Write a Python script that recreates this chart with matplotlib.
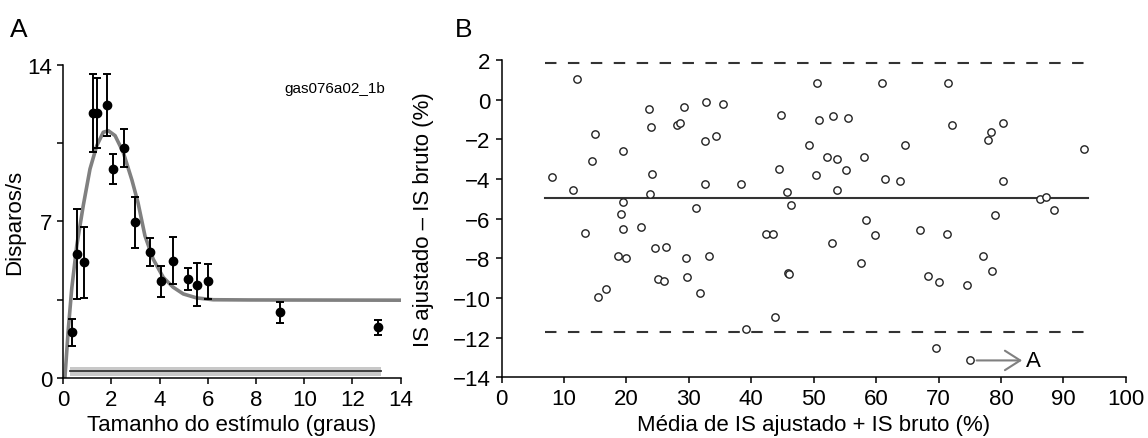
import matplotlib
matplotlib.use("Agg")
import matplotlib.pyplot as plt

plt.rcParams['font.family'] = ['Liberation Sans', 'DejaVu Sans']

# Painel A: resposta ao tamanho do estímulo
tamanho = [0.35, 0.58, 0.86, 1.23, 1.41, 1.81, 2.05, 2.53, 2.99, 3.6, 4.07,
           4.55, 5.16, 5.53, 6.02, 8.99, 13.06]
disparos = [2.04, 5.55, 5.17, 11.85, 11.85, 12.21, 9.35, 10.29, 6.96, 5.62,
            4.32, 5.25, 4.43, 4.17, 4.32, 2.94, 2.27]
erro = [0.62, 2.0, 1.57, 1.74, 1.56, 1.38, 0.67, 0.85, 1.15, 0.63, 0.7,
        1.05, 0.5, 0.96, 0.78, 0.46, 0.33]

# curva ajustada
ajuste_x = [0, 0.07, 0.21, 0.35, 0.56, 0.83, 1.11, 1.39, 1.66, 1.87, 2.15,
            2.49, 2.85, 3.1, 3.39, 3.73, 4.15, 4.56, 4.98, 5.54, 6.22, 7.75, 14]
ajuste_y = [0, 0.03, 2.19, 3.98, 5.92, 7.71, 9.35, 10.39, 10.99, 11.06, 10.84,
            10.09, 8.85, 7.85, 6.36, 5.32, 4.5, 4.06, 3.76, 3.58, 3.5, 3.49, 3.48]

# atividade espontânea (média ± erro)
espont_x = [0.28, 13.2]
espont_media = 0.3
espont_erro = 0.19

# Painel B: Bland-Altman
media_is = [8.0, 12.07, 11.43, 13.3, 15.0, 14.4, 15.4, 16.7, 19.4, 19.5, 19.2,
            19.5, 18.6, 19.9, 23.6, 24.0, 24.1, 23.8, 22.3, 24.6, 26.3, 25.1,
            26.0, 28.1, 28.6, 29.2, 29.5, 29.7, 31.1, 31.8, 32.7, 32.6, 32.6,
            33.2, 34.3, 35.5, 38.4, 39.2, 42.3, 43.5, 43.8, 44.4, 44.8, 45.8,
            46.4, 45.9, 46.0, 50.6, 50.85, 53.1, 55.5, 49.2, 52.2, 53.7, 58.1,
            50.3, 55.2, 53.8, 61.4, 63.9, 61.0, 71.5, 64.6, 72.2, 77.9, 78.4,
            80.4, 80.3, 93.3, 58.4, 59.9, 52.9, 57.6, 67.1, 71.4, 68.3, 70.0,
            74.5, 77.1, 78.6, 79.1, 86.2, 87.2, 88.5, 69.6, 75.0]
dif_is = [-3.89, 1.02, -4.58, -6.72, -1.74, -3.07, -9.94, -9.57, -2.58, -5.17,
          -5.76, -6.5, -7.9, -8.0, -0.47, -1.37, -3.76, -4.77, -6.4, -7.49,
          -7.44, -9.06, -9.14, -1.30, -1.16, -0.37, -8.0, -8.96, -5.46, -9.73,
          -0.14, -2.11, -4.26, -7.87, -1.85, -0.24, -4.25, -11.54, -6.79, -6.79,
          -10.98, -3.52, -0.79, -4.67, -5.31, -8.72, -8.8, 0.82, -1.01, -0.85,
          -0.95, -2.28, -2.87, -3.0, -2.87, -3.81, -3.56, -4.58, -3.99, -4.11,
          0.82, 0.82, -2.28, -1.28, -2.04, -1.62, -1.17, -4.11, -2.51, -6.07,
          -6.84, -7.21, -8.23, -6.59, -6.79, -8.87, -9.2, -9.33, -7.88, -8.64,
          -5.84, -5.02, -4.92, -5.54, -12.51, -13.15]
vies = -4.95
limite_sup = 1.83
limite_inf = -11.74
linhas_x = [7.0, 94.0]

fig = plt.figure(figsize=(11.48, 4.39), dpi=100)
axA = fig.add_axes([0.0551, 0.1367, 0.2939, 0.713])
axB = fig.add_axes([0.437, 0.1383, 0.5436, 0.7228])

for ax in (axA, axB):
    for s in ('top', 'right'):
        ax.spines[s].set_visible(False)
    for s in ('left', 'bottom'):
        ax.spines[s].set_linewidth(1.1)
    ax.tick_params(which='both', labelsize=16, length=4, width=1.1, pad=4)

# --- A ---
axA.fill_between(espont_x, espont_media - espont_erro, espont_media + espont_erro,
                 color='#c8c8c8', lw=0)
axA.plot(espont_x, [espont_media, espont_media], color='#333333', lw=1.3)
axA.plot(ajuste_x, ajuste_y, color='#808080', lw=2.6, solid_joinstyle='round',
         zorder=2)
axA.errorbar(tamanho, disparos, yerr=erro, fmt='o', color='black', ms=6,
             elinewidth=1.4, capsize=3, capthick=1.4, zorder=3)
axA.set_xlim(0, 14)
axA.set_ylim(0, 14)
axA.set_xticks(range(0, 15, 2))
axA.set_yticks([0, 7, 14])
axA.set_yticks([3.5, 10.5], minor=True)
axA.set_xlabel("Tamanho do estímulo (graus)", fontsize=16)
axA.set_ylabel("Disparos/s", fontsize=16)
axA.xaxis.set_label_coords(0.5, -0.115)
axA.yaxis.set_label_coords(-0.113, 0.5)
axA.text(13.35, 12.97, "gas076a02_1b", fontsize=11, ha='right', va='center')
for s in ('left', 'bottom'):
    axA.spines[s].set_zorder(4)

# --- B ---
axB.plot(linhas_x, [vies, vies], color='#333333', lw=1.5)
axB.plot(linhas_x, [limite_sup, limite_sup], color='#333333', lw=1.5,
         ls=(0, (5.5, 5.5)))
axB.plot(linhas_x, [limite_inf, limite_inf], color='#333333', lw=1.5,
         ls=(0, (5.5, 5.5)))
axB.scatter(media_is, dif_is, s=28, facecolors='white', edgecolors='#222222',
            linewidths=1.0, zorder=3)
axB.annotate("", xy=(83.4, -13.15), xytext=(76.1, -13.15),
             arrowprops=dict(arrowstyle='->,head_length=0.55,head_width=0.35',
                             color='#808080', lw=1.5, mutation_scale=20,
                             shrinkA=0, shrinkB=0))
axB.text(84.0, -13.15, "A", fontsize=16, va='center', ha='left')
axB.set_xlim(0, 100)
axB.set_ylim(-14, 2)
axB.set_xticks(range(0, 101, 10))
axB.set_yticks(range(-14, 3, 2))
axB.set_xlabel("Média de IS ajustado + IS bruto (%)", fontsize=16)
axB.set_ylabel("IS ajustado – IS bruto (%)", fontsize=16)
axB.xaxis.set_label_coords(0.5, -0.115)
axB.yaxis.set_label_coords(-0.108, 0.5)

fig.text(0.0087, 0.9157, "A", fontsize=19, va='baseline')
fig.text(0.396, 0.9157, "B", fontsize=19, va='baseline')

fig.savefig("out.png", dpi=100)
